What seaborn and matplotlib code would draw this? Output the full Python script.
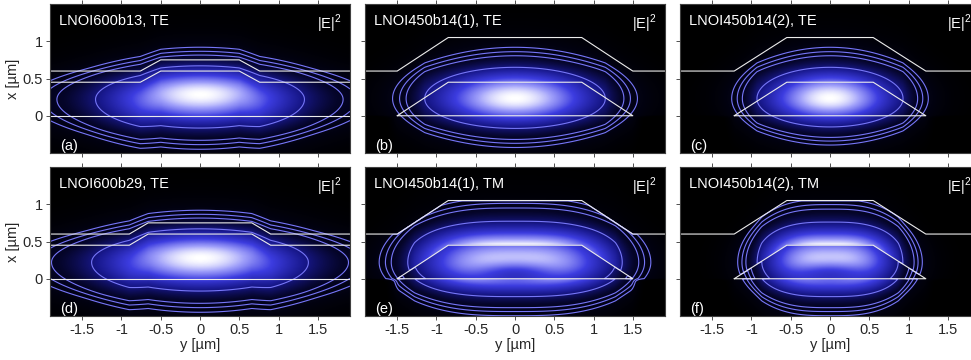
import numpy as np
import pandas as pd
import seaborn as sns
import matplotlib
matplotlib.use('Agg')
import matplotlib.pyplot as plt
from matplotlib.colors import LinearSegmentedColormap

# ----- Panel texts -----
panel_names = ['LNOI600b13, TE', 'LNOI450b14(1), TE', 'LNOI450b14(2), TE',
               'LNOI600b29, TE', 'LNOI450b14(1), TM', 'LNOI450b14(2), TM']
panel_letters = ['(a)', '(b)', '(c)', '(d)', '(e)', '(f)']
xtick_vals = [-1.5, -1, -0.5, 0, 0.5, 1, 1.5]
xtick_labels = ['-1.5', '-1', '-0.5', '0', '0.5', '1', '1.5']
ytick_vals = [0, 0.5, 1]
ytick_labels = ['0', '0.5', '1']

# ----- Waveguide geometry (µm) -----
# rib panels (a, d): slab 0.45 / ridge 0.6, cladding 0.6 / 0.75
rib_half_top = [0.5, 0.66]      # flat top half-width, panel a and d
rib_half_foot = [0.76, 0.9]     # half-width where the slope meets the slab
slab_x = [0.45, 0.6]            # lower outline: edges -> centre
clad_x = [0.6, 0.75]            # upper outline: edges -> centre
# trapezoid panels (b, e) and (c, f)
trap_half_bottom = [1.5, 1.22]
trap_half_top = [0.85, 0.55]
trap_height = 0.45
trap_clad = [0.6, 1.05]         # cladding top: far field -> over the ridge

# ----- Mode model parameters per panel -----
mode_xc = [0.22, 0.23, 0.23, 0.22, 0.22, 0.22]
mode_shift = [0.06, 0.0, 0.0, 0.06, 0.0, 0.0]
mode_s_up = [0.39, 0.42, 0.42, 0.39, 0.48, 0.47]
mode_s_dn = [0.445, 0.40, 0.38, 0.445, 0.40, 0.40]
mode_w = [1.33, 1.15, 0.93, 1.38, 1.28, 0.87]
mode_p = [2, 2, 2, 2, 3, 3]
mode_slope = [2, 3.6, 3.7, 2, 4.5, 4.5]
mode_tm = [False, False, False, False, True, True]
contour_phi = [1.0, 1.74, 2.0, 2.28]

YLIM = (-0.5, 1.5)
XLIM = (-1.91, 1.91)

cmap = LinearSegmentedColormap.from_list(
    'blk_blue_white',
    [(0.0, '#000000'), (0.2, '#05052a'), (0.4, '#18188c'),
     (0.65, '#3c3ce0'), (0.85, '#a0a0fa'), (1.0, '#ffffff')])

sns.set_style('ticks')
plt.rcParams['font.family'] = ['Liberation Sans', 'DejaVu Sans']
plt.rcParams['mathtext.fontset'] = 'custom'
plt.rcParams['mathtext.rm'] = 'Liberation Sans'
plt.rcParams['axes.unicode_minus'] = False

yy = np.linspace(XLIM[0], XLIM[1], 480)
xx = np.linspace(YLIM[0], YLIM[1], 260)
Y, X = np.meshgrid(yy, xx)


def soft(u, p, slope):
    u = np.abs(u)
    return np.where(u < 1, u ** p, 1 + slope * (u - 1))


def outlines(i):
    # list of (y, x) polylines for panel i
    if i in (0, 3):
        k = 0 if i == 0 else 1
        ht, hf = rib_half_top[k], rib_half_foot[k]
        py = [XLIM[0], -hf, -ht, ht, hf, XLIM[1]]
        return [(py, [slab_x[0], slab_x[0], slab_x[1], slab_x[1], slab_x[0], slab_x[0]]),
                (py, [clad_x[0], clad_x[0], clad_x[1], clad_x[1], clad_x[0], clad_x[0]]),
                ([XLIM[0], XLIM[1]], [0, 0])]
    k = 0 if i in (1, 4) else 1
    hb, ht = trap_half_bottom[k], trap_half_top[k]
    return [([-hb, -ht, ht, hb, -hb], [0, trap_height, trap_height, 0, 0]),
            ([XLIM[0], -hb, -ht, ht, hb, XLIM[1]],
             [trap_clad[0], trap_clad[0], trap_clad[1], trap_clad[1], trap_clad[0], trap_clad[0]])]


def field(i):
    if i in (0, 3):
        k = 0 if i == 0 else 1
        ht, hf = rib_half_top[k], rib_half_foot[k]
        h = np.clip((hf - np.abs(Y)) / (hf - ht), 0, 1)
    else:
        h = np.zeros_like(Y)
    xc = mode_xc[i] + mode_shift[i] * h
    d = X - xc
    phi = soft(np.where(d > 0, d / mode_s_up[i], 0), 2, 2) + \
        soft(np.where(d < 0, -d / mode_s_dn[i], 0), 2, 2) + \
        soft(Y / mode_w[i], mode_p[i], mode_slope[i])
    if i not in (0, 3):
        # field is pinned at the bottom corners of the ridge
        k = 0 if i in (1, 4) else 1
        hb = trap_half_bottom[k]
        below = np.clip(-X / 0.04, 0, 1)
        phi = phi + below * (np.clip(np.abs(Y) - hb + 0.03, 0, None) / 0.12) ** 2
    I = np.exp(-phi)
    if mode_tm[i]:
        k = 0 if i == 4 else 1
        hb, ht = trap_half_bottom[k], trap_half_top[k]
        half = hb - (hb - ht) * np.clip(X, 0, trap_height) / trap_height
        inside = (X >= 0) & (X <= trap_height) & (np.abs(Y) <= half)
        ctop = trap_clad[0] + (trap_clad[1] - trap_clad[0]) * \
            np.clip((hb - np.abs(Y)) / (hb - ht), 0, 1)
        air = X > ctop
        I = I * np.where(inside, 1.0, 1.35) * np.where(air, 0.45, 1.0)
        I = I * (1 - 0.3 * np.exp(-((Y / 0.5) ** 2 + ((X - 0.08) / 0.14) ** 2)))
    return I


fig = plt.figure(figsize=(9.71, 3.6), dpi=100)
W, H = 971.0, 360.0
col_left = [50, 365, 680]
row_top = [4, 167]
ax_w, ax_h = 300, 149

for i in range(6):
    r, c = divmod(i, 3)
    ax = fig.add_axes([col_left[c] / W, 1 - (row_top[r] + ax_h) / H, ax_w / W, ax_h / H])
    I = field(i)
    ax.imshow(I / I.max(), extent=[XLIM[0], XLIM[1], YLIM[0], YLIM[1]], origin='lower',
              cmap=cmap, vmin=0, vmax=1, aspect='auto', interpolation='bilinear')
    ax.contour(yy, xx, I, levels=sorted(np.exp(-np.array(contour_phi))),
               colors='#7676f8', linewidths=0.8)
    rows = []
    for j, (py, px) in enumerate(outlines(i)):
        for a, b in zip(py, px):
            rows.append({'y': a, 'x': b, 'part': j})
    geo = pd.DataFrame(rows)
    sns.lineplot(data=geo, x='y', y='x', units='part', estimator=None, sort=False,
                 color='#ececec', linewidth=0.8, ax=ax, legend=False)
    ax.set_xlim(XLIM)
    ax.set_ylim(YLIM)
    ax.set_xticks(xtick_vals)
    ax.set_yticks(ytick_vals)
    ax.tick_params(direction='out', length=3, width=0.6, colors='#333333',
                   top=True, bottom=True, left=True, right=False, labelsize=10.5,
                   labelcolor='#262626', pad=2)
    for s in ax.spines.values():
        s.set_color('#404040')
        s.set_linewidth(0.8)
    if r == 1:
        ax.set_xticklabels(xtick_labels)
        ax.set_xlabel('y [µm]', fontsize=10.5, color='#262626', labelpad=1)
    else:
        ax.set_xticklabels([])
        ax.set_xlabel('')
    if c == 0:
        ax.set_yticklabels(ytick_labels)
        ax.set_ylabel('x [µm]', fontsize=10.5, color='#262626', labelpad=2)
    else:
        ax.set_yticklabels([])
        ax.set_ylabel('')
    ax.text(9 / ax_w, 1 - 17 / ax_h, panel_names[i], transform=ax.transAxes,
            color='white', fontsize=10.5, ha='left', va='center')
    ax.text(10 / ax_w, 7 / ax_h, panel_letters[i], transform=ax.transAxes,
            color='white', fontsize=10.5, ha='left', va='center')
    ax.text(1 - 8 / ax_w, 1 - 20 / ax_h, r'$|\mathrm{E}|^2$', transform=ax.transAxes,
            color='white', fontsize=10.5, ha='right', va='center')

fig.savefig('out.png', dpi=100, facecolor='white')
